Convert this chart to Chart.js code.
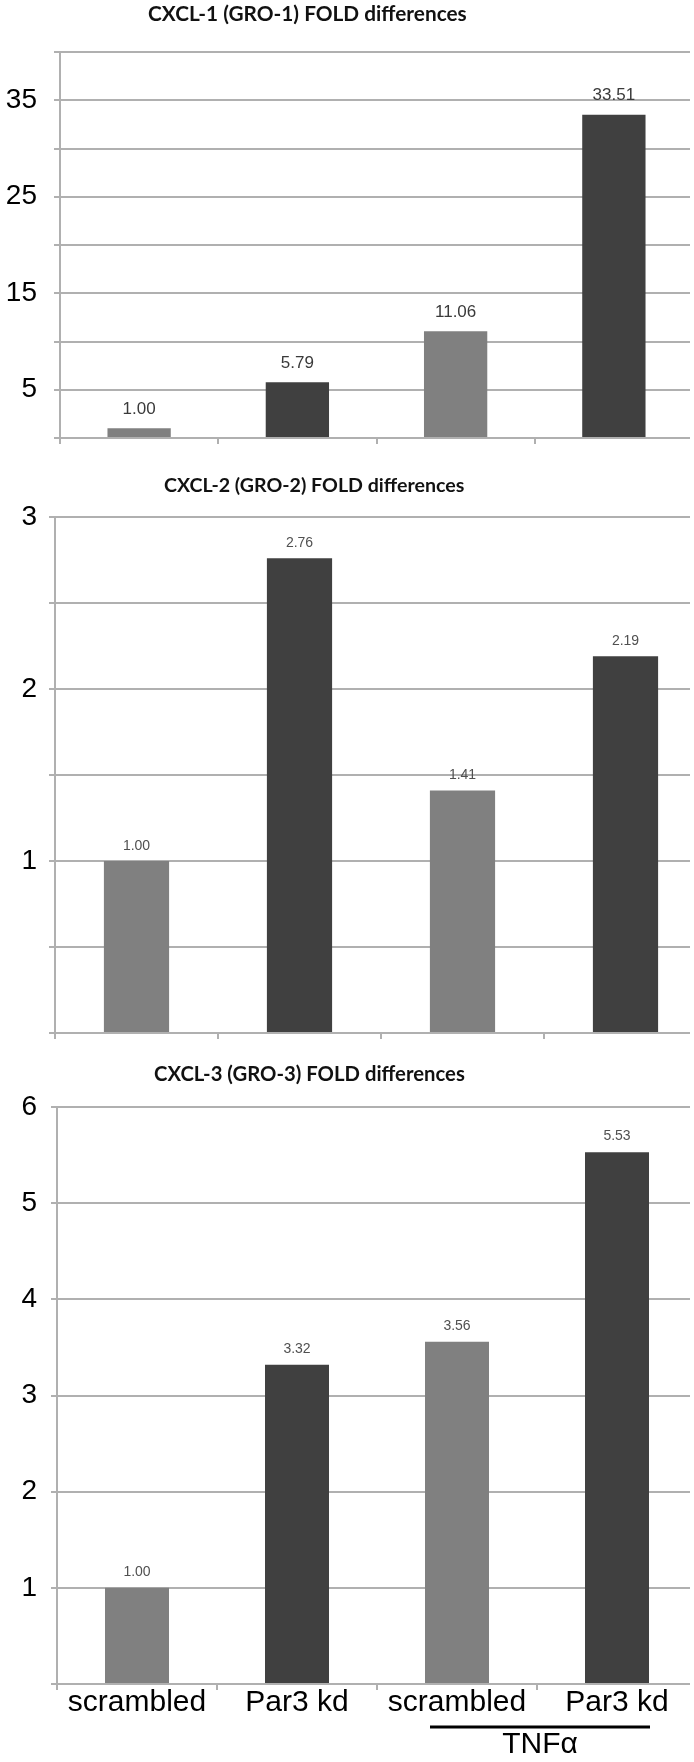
<!DOCTYPE html>
<html>
<head>
<meta charset="utf-8">
<script src="https://cdn.jsdelivr.net/npm/chart.js@4.4.1/dist/chart.umd.min.js"></script>
<style>
  html, body { margin: 0; padding: 0; background: #fff; overflow: hidden; }
  #page { position: relative; width: 694px; height: 1762px; overflow: hidden; }
  .panel { position: absolute; left: 0; width: 690px; overflow: hidden; }
  .panel canvas { display: block; }
  .title { position: absolute; font-family: Lato, "Liberation Sans", sans-serif; font-weight: bold;
           color: #111; white-space: nowrap; line-height: 1; }
</style>
</head>
<body>
<div id="page">
  <div class="panel" style="top:0;height:460px"><canvas id="c1" width="693" height="460"></canvas></div>
  <div class="panel" style="top:460px;height:590px"><canvas id="c2" width="707" height="590"></canvas></div>
  <div class="panel" style="top:1050px;height:712px"><canvas id="c3" width="697" height="712"></canvas></div>
  <div class="title" id="t1" style="left:148px;top:3px;font-size:20.8px"></div>
  <div class="title" id="t2" style="left:164px;top:475px;font-size:19.6px"></div>
  <div class="title" id="t3" style="left:154px;top:1063px;font-size:20.3px"></div>
</div>
<script>
// data
const categories = ["scrambled", "Par3 kd", "scrambled", "Par3 kd"];
const cxcl1Values = [1.00, 5.79, 11.06, 33.51];
const cxcl2Values = [1.00, 2.76, 1.41, 2.19];
const cxcl3Values = [1.00, 3.32, 3.56, 5.53];
const cxcl1Labelled = [5, 15, 25, 35];
const cxcl2Labelled = [1, 2, 3];
const cxcl3Labelled = [1, 2, 3, 4, 5, 6];
const titles = [
  "CXCL-1 (GRO-1) FOLD differences",
  "CXCL-2 (GRO-2) FOLD differences",
  "CXCL-3 (GRO-3) FOLD differences"
];
const groupLabel = "TNF\u03b1";

const barColors = ["#808080", "#404040", "#808080", "#404040"];
const gridColor = "#b0b0b0";
const sans = '"Liberation Sans", Arial, sans-serif';

titles.forEach((t, i) => { document.getElementById("t" + (i + 1)).textContent = t; });

// value printed above each bar
const barValues = {
  id: "barValues",
  afterDatasetsDraw(chart, args, opts) {
    const ctx = chart.ctx;
    const data = chart.data.datasets[0].data;
    ctx.save();
    ctx.font = opts.size + "px " + sans;
    ctx.fillStyle = opts.color;
    ctx.textAlign = "center";
    ctx.textBaseline = "middle";
    chart.getDatasetMeta(0).data.forEach((bar, i) => {
      ctx.fillText(data[i].toFixed(2), bar.x, bar.y - opts.offset);
    });
    ctx.restore();
  }
};

// line under the two TNF-treated groups + its label
const groupBracket = {
  id: "groupBracket",
  afterDraw(chart) {
    const x = chart.scales.x;
    const left = x.getPixelForValue(2) - 27;
    const right = x.getPixelForValue(3) + 33;
    const ctx = chart.ctx;
    ctx.save();
    ctx.strokeStyle = "#000";
    ctx.lineWidth = 3;
    ctx.beginPath();
    ctx.moveTo(left, x.top + 43);
    ctx.lineTo(right, x.top + 43);
    ctx.stroke();
    ctx.fillStyle = "#000";
    ctx.font = "30px " + sans;
    ctx.textAlign = "center";
    ctx.textBaseline = "middle";
    ctx.fillText(groupLabel, (left + right) / 2, x.top + 61);
    ctx.restore();
  }
};

function drawPanel(id, values, yMax, yStep, labelled, cfg) {
  const extra = [barValues];
  if (cfg.bracket) extra.push(groupBracket);
  return new Chart(document.getElementById(id), {
    type: "bar",
    data: {
      labels: categories,
      datasets: [{
        data: values,
        backgroundColor: barColors,
        barPercentage: 0.4,
        categoryPercentage: 1
      }]
    },
    options: {
      responsive: false,
      animation: false,
      layout: { padding: { top: cfg.top, left: 0, right: 0, bottom: 0 } },
      plugins: {
        legend: { display: false },
        tooltip: { enabled: false },
        barValues: { size: cfg.valueSize, color: cfg.valueColor, offset: cfg.valueOffset }
      },
      scales: {
        x: {
          grid: { drawOnChartArea: false, tickLength: 6, color: gridColor, lineWidth: 2 },
          border: { color: gridColor, width: 2 },
          ticks: {
            display: cfg.showX,
            color: "#000",
            padding: -2,
            font: { family: sans, size: 30, lineHeight: 1 }
          },
          afterFit: s => { s.height = cfg.xHeight; }
        },
        y: {
          min: 0,
          max: yMax,
          grid: { color: gridColor, lineWidth: 2, tickLength: 6 },
          border: { color: gridColor, width: 2 },
          ticks: {
            stepSize: yStep,
            autoSkip: false,
            color: "#000",
            padding: cfg.yPad,
            font: { family: sans, size: 28 },
            callback: v => labelled.includes(v) ? String(v) : ""
          },
          afterFit: s => {
            s.width = cfg.left;
            s.paddingTop = 0;
            s.paddingBottom = 0;
          }
        }
      }
    },
    plugins: extra
  });
}

drawPanel("c1", cxcl1Values, 40, 5, cxcl1Labelled, {
  top: 52, left: 60, xHeight: 22, yPad: 17, showX: false,
  valueSize: 17, valueColor: "#3a3a3a", valueOffset: 19
});
drawPanel("c2", cxcl2Values, 3, 0.5, cxcl2Labelled, {
  top: 57, left: 55, xHeight: 17, yPad: 12, showX: false,
  valueSize: 14, valueColor: "#505050", valueOffset: 15
});
drawPanel("c3", cxcl3Values, 6, 1, cxcl3Labelled, {
  top: 57, left: 57, xHeight: 78, yPad: 14, showX: true, bracket: true,
  valueSize: 14, valueColor: "#505050", valueOffset: 16
});
</script>
</body>
</html>
